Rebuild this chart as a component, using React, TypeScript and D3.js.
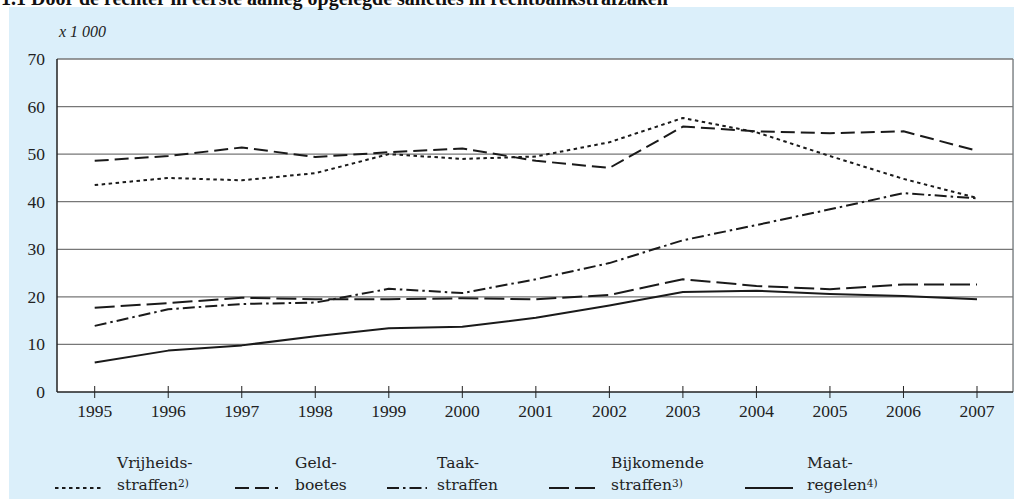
import React, { useEffect, useRef } from "react";
import * as d3 from "d3";

const years = [1995, 1996, 1997, 1998, 1999, 2000, 2001, 2002, 2003, 2004, 2005, 2006, 2007];
const vrijheidsstraffen = [43.5, 45, 44.5, 46, 50, 49, 49.5, 52.5, 57.6, 54.6, 49.6, 44.8, 40.8];
const geldboetes = [48.6, 49.6, 51.4, 49.4, 50.4, 51.2, 48.6, 47.1, 55.8, 54.8, 54.4, 54.8, 50.7];
const taakstraffen = [13.9, 17.4, 18.5, 18.8, 21.7, 20.8, 23.7, 27.1, 31.9, 35.1, 38.4, 41.8, 40.7];
const bijkomende = [17.7, 18.7, 19.8, 19.5, 19.5, 19.7, 19.5, 20.4, 23.7, 22.3, 21.6, 22.6, 22.6];
const maatregelen = [6.2, 8.7, 9.8, 11.7, 13.4, 13.7, 15.6, 18.2, 21.0, 21.3, 20.6, 20.2, 19.5];
const yTicks = [0, 10, 20, 30, 40, 50, 60, 70];

const series = [
  { name: "Vrijheids-", name2: "straffen", sup: "2)", values: vrijheidsstraffen, dash: "3.5,3.5", legX: 55, legW: 49, textX: 117 },
  { name: "Geld-", name2: "boetes", sup: "", values: geldboetes, dash: "14,6", legX: 235, legW: 43, textX: 295 },
  { name: "Taak-", name2: "straffen", sup: "", values: taakstraffen, dash: "12,4,2.5,4", legX: 387, legW: 40, textX: 437 },
  { name: "Bijkomende", name2: "straffen", sup: "3)", values: bijkomende, dash: "20,6", legX: 549, legW: 48, textX: 611 },
  { name: "Maat-", name2: "regelen", sup: "4)", values: maatregelen, dash: "", legX: 745, legW: 48, textX: 807 },
];

const W = 1014, H = 499;
const left = 57, right = 1013, top = 59, bottom = 392;
const FONT = "Liberation Serif, DejaVu Serif, serif";
const LFONT = "DejaVu Serif, Liberation Serif, serif";

export default function App() {
  const ref = useRef<SVGSVGElement>(null);
  useEffect(() => {
    const svg = d3.select(ref.current);
    svg.selectAll("*").remove();

    svg.append("rect").attr("x", 9).attr("y", 7).attr("width", W - 9).attr("height", H - 7).attr("fill", "#dbeffa");
    svg.append("text").attr("x", 1).attr("y", 5).style("font-family", FONT).style("font-weight", "bold")
      .style("font-size", "20px").attr("fill", "#111")
      .text("1.1  Door de rechter in eerste aanleg opgelegde sancties in rechtbankstrafzaken");

    const x = d3.scalePoint<number>().domain(years).range([94.7, 977]);
    const y = d3.scaleLinear().domain([0, 70]).range([bottom, top]);

    svg.append("rect").attr("x", left).attr("y", top).attr("width", right - left).attr("height", bottom - top).attr("fill", "#fff");

    const g = svg.append("g");
    yTicks.forEach((t) => {
      if (t > 0) {
        g.append("line").attr("x1", left).attr("x2", right).attr("y1", y(t)).attr("y2", y(t))
          .attr("stroke", "#777").attr("stroke-width", 1.3);
      }
      g.append("text").attr("x", 45).attr("y", y(t) + 6).attr("text-anchor", "end")
        .style("font-family", FONT).style("font-size", "17.5px").attr("fill", "#222").text(String(t));
    });
    g.append("line").attr("x1", right).attr("x2", right).attr("y1", top).attr("y2", bottom).attr("stroke", "#777").attr("stroke-width", 1.3);
    g.append("line").attr("x1", left).attr("x2", left).attr("y1", top).attr("y2", bottom).attr("stroke", "#222").attr("stroke-width", 1.5);
    g.append("line").attr("x1", left).attr("x2", right).attr("y1", bottom).attr("y2", bottom).attr("stroke", "#222").attr("stroke-width", 1.5);

    years.forEach((yr) => {
      g.append("line").attr("x1", x(yr)!).attr("x2", x(yr)!).attr("y1", bottom - 6).attr("y2", bottom + 6)
        .attr("stroke", "#222").attr("stroke-width", 1);
      g.append("text").attr("x", x(yr)!).attr("y", 417).attr("text-anchor", "middle")
        .style("font-family", FONT).style("font-size", "17.5px").attr("fill", "#222").text(String(yr));
    });

    svg.append("text").attr("x", 59).attr("y", 37).style("font-family", FONT).style("font-style", "italic")
      .style("font-size", "16px").attr("fill", "#222").text("x 1 000");

    const line = d3.line<number>().x((_, i) => x(years[i])!).y((d) => y(d));
    series.forEach((s) => {
      svg.append("path").attr("d", line(s.values)!).attr("fill", "none").attr("stroke", "#1a1a1a")
        .attr("stroke-width", 2).attr("stroke-dasharray", s.dash || null).attr("stroke-linejoin", "round");
      svg.append("line").attr("x1", s.legX).attr("x2", s.legX + s.legW).attr("y1", 488).attr("y2", 488)
        .attr("stroke", "#1a1a1a").attr("stroke-width", 2).attr("stroke-dasharray", s.dash || null);
      svg.append("text").attr("x", s.textX).attr("y", 468).style("font-family", LFONT).style("font-size", "15.5px")
        .attr("fill", "#222").text(s.name);
      const t2 = svg.append("text").attr("x", s.textX).attr("y", 490).style("font-family", LFONT).style("font-size", "15.5px")
        .attr("fill", "#222");
      t2.append("tspan").text(s.name2);
      if (s.sup) t2.append("tspan").style("font-size", "10.5px").attr("dy", -3).text(s.sup);
    });
  }, []);
  return <svg ref={ref} width={W} height={H} style={{ position: "absolute", left: 0, top: 0 }} />;
}
